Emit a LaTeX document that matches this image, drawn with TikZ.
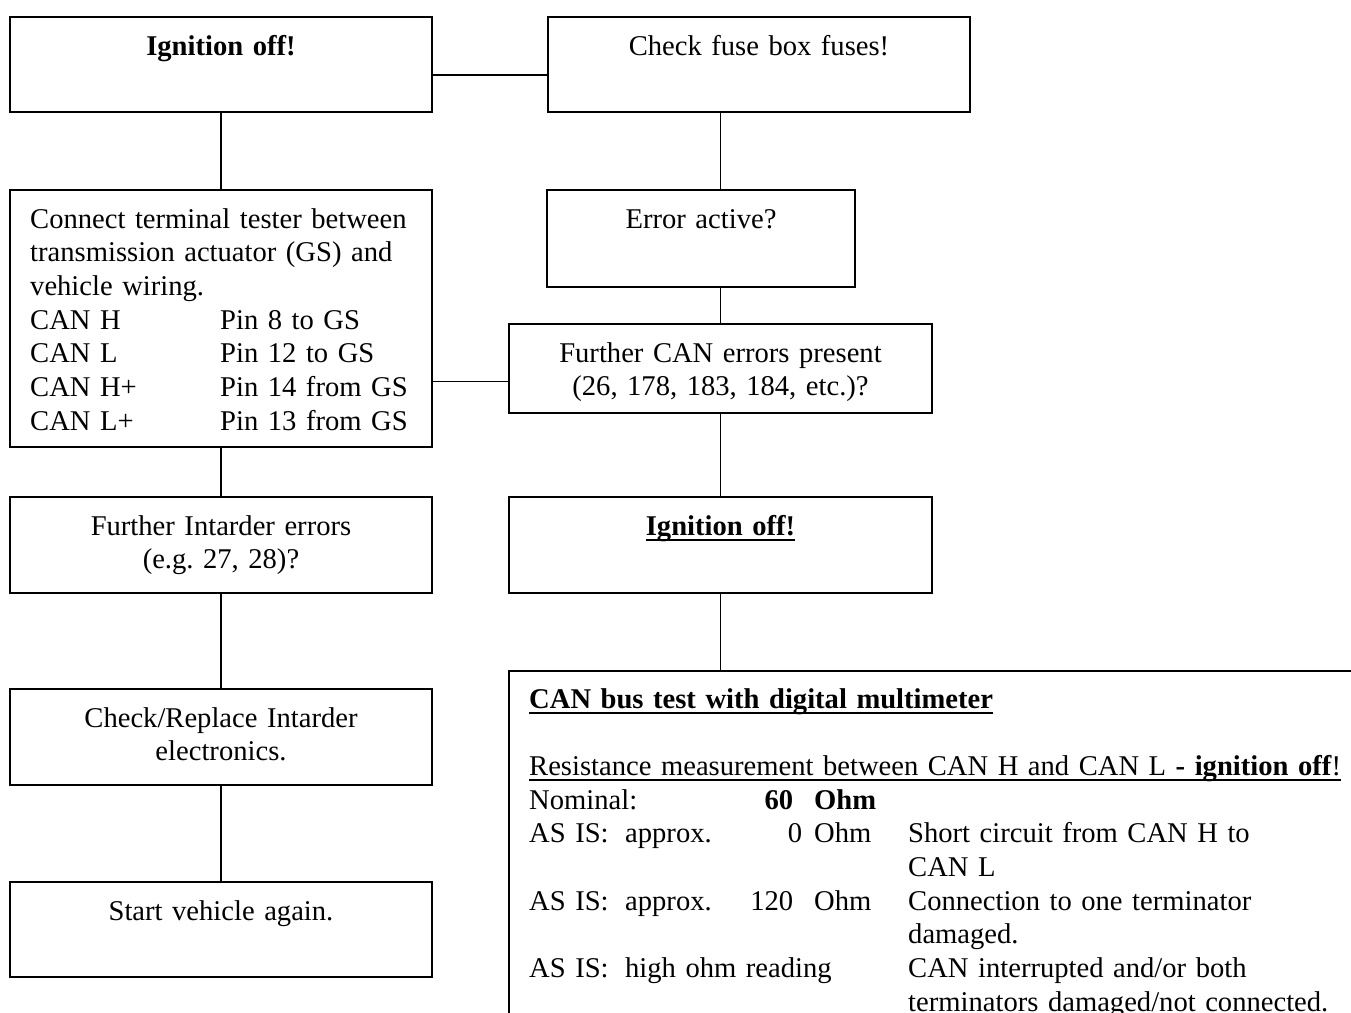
\documentclass[tikz,border=0pt]{standalone}
\usepackage{fontspec}
\setmainfont{Liberation Serif}
\frenchspacing
% underline close below the baseline
\newcommand{\undl}[1]{\leavevmode\setbox0\hbox{#1}\rlap{\rule[-6pt]{\wd0}{2pt}}\box0}
% one line of the measurement table
\newcommand{\measrow}[4]{\makebox[96pt][l]{#1}\makebox[168pt][r]{#2}\hspace{21pt}\makebox[94pt][l]{#3}#4}
\begin{document}
\begin{tikzpicture}
	[x=1pt,y=-1pt,
	 box/.style={draw,line width=1.8pt,anchor=north west,inner sep=0pt,outer sep=0pt},
	 txt/.style={anchor=base,inner sep=0pt,text width=400pt,align=center,font=\fontsize{28.6pt}{33.7pt}\selectfont},
	 link/.style={line width=1.8pt}]
	\useasboundingbox (0,0) rectangle (1351,1012);
	\clip (0,0) rectangle (1351,1012);

	% left column
	\node[box,minimum width=422pt,minimum height=95pt] (ign1) at (10,17) {};
	\node[box,minimum width=422pt,minimum height=257pt] (connect) at (10,190) {};
	\node[box,minimum width=422pt,minimum height=96pt] (intarder) at (10,497) {};
	\node[box,minimum width=422pt,minimum height=96pt] (replace) at (10,689) {};
	\node[box,minimum width=422pt,minimum height=95pt] (start) at (10,882) {};

	% right column
	\node[box,minimum width=422pt,minimum height=95pt] (fuse) at (548,17) {};
	\node[box,minimum width=308pt,minimum height=97pt] (error) at (547,190) {};
	\node[box,minimum width=423pt,minimum height=89pt] (further) at (509,324) {};
	\node[box,minimum width=423pt,minimum height=96pt] (ign2) at (509,497) {};
	\node[box,minimum width=900pt,minimum height=400pt] (cantest) at (509,671) {};

	\node[txt] (ign1-t) at ([yshift=-38pt]ign1.north) {\textbf{Ignition off!}};
	\node[txt,anchor=base west,align=left] (connect-t) at ([xshift=20pt,yshift=-38pt]connect.north west)
		{Connect terminal tester between\\
		 transmission actuator (GS) and\\
		 vehicle wiring.\\
		 \makebox[190pt][l]{CAN H}Pin 8 to GS\\
		 \makebox[190pt][l]{CAN L}Pin 12 to GS\\
		 \makebox[190pt][l]{CAN H+}Pin 14 from GS\\
		 \makebox[190pt][l]{CAN L+}Pin 13 from GS};
	\node[txt] (intarder-t) at ([yshift=-38pt]intarder.north) {Further Intarder errors\\(e.g. 27, 28)?};
	\node[txt] (replace-t) at ([yshift=-38pt]replace.north) {Check/Replace Intarder\\electronics.};
	\node[txt] (start-t) at ([yshift=-38pt]start.north) {Start vehicle again.};

	\node[txt] (fuse-t) at ([yshift=-38pt]fuse.north) {Check fuse box fuses!};
	\node[txt] (error-t) at ([yshift=-38pt]error.north) {Error active?};
	\node[txt] (further-t) at ([yshift=-38pt]further.north) {Further CAN errors present\\(26, 178, 183, 184, etc.)?};
	\node[txt] (ign2-t) at ([yshift=-38pt]ign2.north) {\undl{\textbf{Ignition off!}}};
	\node[txt,anchor=base west,align=left,text width=840pt] (cantest-t) at ([xshift=20pt,yshift=-37pt]cantest.north west)
		{\undl{\textbf{CAN bus test with digital multimeter}}\\[33.7pt]
		 \undl{Resistance measurement between CAN H and CAN L \textbf{- ignition off}!}\\
		 \measrow{Nominal:}{\textbf{60}}{\textbf{Ohm}}{}\\
		 \measrow{AS IS:}{approx.\hfill 0\kern-9pt}{Ohm}{Short circuit from CAN H to}\\
		 \measrow{}{}{}{CAN L}\\
		 \measrow{AS IS:}{approx.\hfill 120}{Ohm}{Connection to one terminator}\\
		 \measrow{}{}{}{damaged.}\\
		 \makebox[96pt][l]{AS IS:}\makebox[283pt][l]{high ohm reading}CAN interrupted and/or both\\
		 \measrow{}{}{}{terminators damaged/not connected.}};

	\coordinate (joint) at ([yshift=-13pt]further.west);

	\draw[link] ([yshift=-10.5pt]ign1.east) -- ([yshift=-10.5pt]fuse.west);
	\draw[link] (ign1.south) -- (connect.north);
	\draw[link] (connect.south) -- (intarder.north);
	\draw[link] (intarder.south) -- (replace.north);
	\draw[link] (replace.south) -- (start.north);
	\draw[link] (joint -| connect.east) -- (joint);
	\draw[link] (further.north |- fuse.south) -- (further.north |- error.north);
	\draw[link] (further.north |- error.south) -- (further.north);
	\draw[link] (further.south) -- (ign2.north);
	\draw[link] (ign2.south) -- (ign2.south |- cantest.north);
\end{tikzpicture}
\end{document}
